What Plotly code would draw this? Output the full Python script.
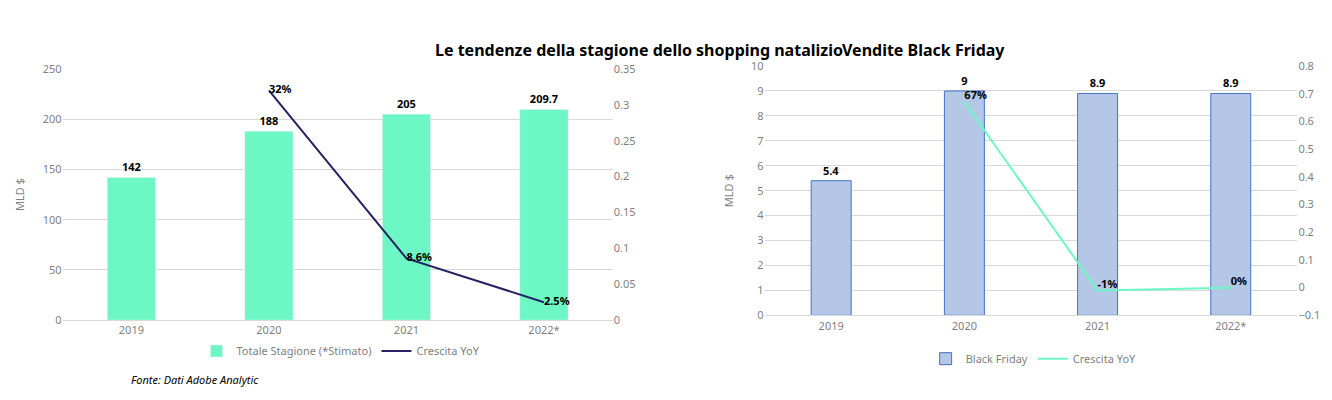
import plotly.graph_objects as go

years = ["2019", "2020", "2021", "2022*"]
totale = [142, 188, 205, 209.7]
totale_lbl = ["<b>142</b>", "<b>188</b>", "<b>205</b>", "<b>209.7</b>"]
crescita1 = [None, 0.32, 0.086, 0.025]
crescita1_lbl = ["", "<b>32%</b>", "<b>8.6%</b>", "<b>2.5%</b>"]
bf = [5.4, 9, 8.9, 8.9]
bf_lbl = ["<b>5.4</b>", "<b>9</b>", "<b>8.9</b>", "<b>8.9</b>"]
crescita2 = [None, 0.67, -0.01, 0.0]
crescita2_lbl = ["", "<b>67%</b>", "<b>-1%</b>", "<b>0%</b>"]

F = "Noto Sans"
grey = "#7f7f7f"
fig = go.Figure()
fig.add_trace(go.Bar(x=years, y=totale, name="Totale Stagione (*Stimato)", marker_color="#6cf7c4",
                     width=0.35, text=totale_lbl, textposition="outside",
                     textfont=dict(size=11, color="black", family=F), cliponaxis=False,
                     xaxis="x", yaxis="y", legend="legend"))
fig.add_trace(go.Scatter(x=years, y=crescita1, name="Crescita YoY", mode="lines+text",
                         line=dict(color="#262262", width=2), text=crescita1_lbl,
                         textposition="middle right", textfont=dict(size=11, color="black", family=F),
                         xaxis="x", yaxis="y2", legend="legend", cliponaxis=False))
fig.add_trace(go.Bar(x=years, y=bf, name="Black Friday", marker=dict(color="#b4c7e7", line=dict(color="#4472c4", width=1)),
                     width=0.3, text=bf_lbl, textposition="outside",
                     textfont=dict(size=11, color="black", family=F), cliponaxis=False,
                     xaxis="x3", yaxis="y3", legend="legend2"))
fig.add_trace(go.Scatter(x=years, y=crescita2, name="Crescita YoY", mode="lines+text",
                         line=dict(color="#6cf7c4", width=2), text=crescita2_lbl,
                         textposition="top right", textfont=dict(size=11, color="black", family=F),
                         xaxis="x3", yaxis="y4", legend="legend2", cliponaxis=False))

tick = dict(size=11, color=grey, family=F)
grid = "#d9d9d9"
fig.update_layout(
    width=1332, height=400, margin=dict(l=0, r=0, t=0, b=0),
    plot_bgcolor="white", paper_bgcolor="white", font=dict(family=F),
    xaxis=dict(domain=[0.041, 0.454], anchor="y", tickfont=tick, showline=True, linecolor=grid, ticks=""),
    yaxis=dict(domain=[0.21, 0.8625], anchor="x", range=[0, 250], dtick=50, gridcolor=grid, tickfont=tick,
               title=dict(text="MLD $", font=dict(size=11, color=grey)), zeroline=False),
    yaxis2=dict(overlaying="y", side="right", anchor="x", range=[0, 0.35], dtick=0.05,
                showgrid=False, tickfont=tick, zeroline=False),
    xaxis3=dict(domain=[0.568, 0.968], anchor="y3", tickfont=tick, showline=True, linecolor=grid),
    yaxis3=dict(domain=[0.2225, 0.87], anchor="x3", range=[0, 10], dtick=1, gridcolor=grid, tickfont=tick,
                title=dict(text="MLD $", font=dict(size=11, color=grey)), zeroline=False),
    yaxis4=dict(overlaying="y3", side="right", anchor="x3", range=[-0.1, 0.8], dtick=0.1,
                showgrid=False, tickfont=tick, zeroline=False),
    legend=dict(orientation="h", x=0.25, xanchor="center", y=0.13, yanchor="middle",
                font=dict(size=11, color=grey)),
    legend2=dict(orientation="h", x=0.77, xanchor="center", y=0.11, yanchor="middle",
                 font=dict(size=11, color=grey)),
    annotations=[
        dict(text="<b>Le tendenze della stagione dello shopping natalizio</b>", x=0.319, y=0.945,
             xref="paper", yref="paper", showarrow=False, font=dict(size=16, color="black")),
        dict(text="<b>Vendite Black Friday</b>", x=0.75, y=0.945, xref="paper", yref="paper",
             showarrow=False, font=dict(size=16, color="black")),
        dict(text="<i>Fonte: Dati Adobe Analytic</i>", x=0.091, y=0.03, xref="paper", yref="paper",
             xanchor="left", showarrow=False, font=dict(size=11, color="black")),
    ],
)
fig.write_html("out.html")
